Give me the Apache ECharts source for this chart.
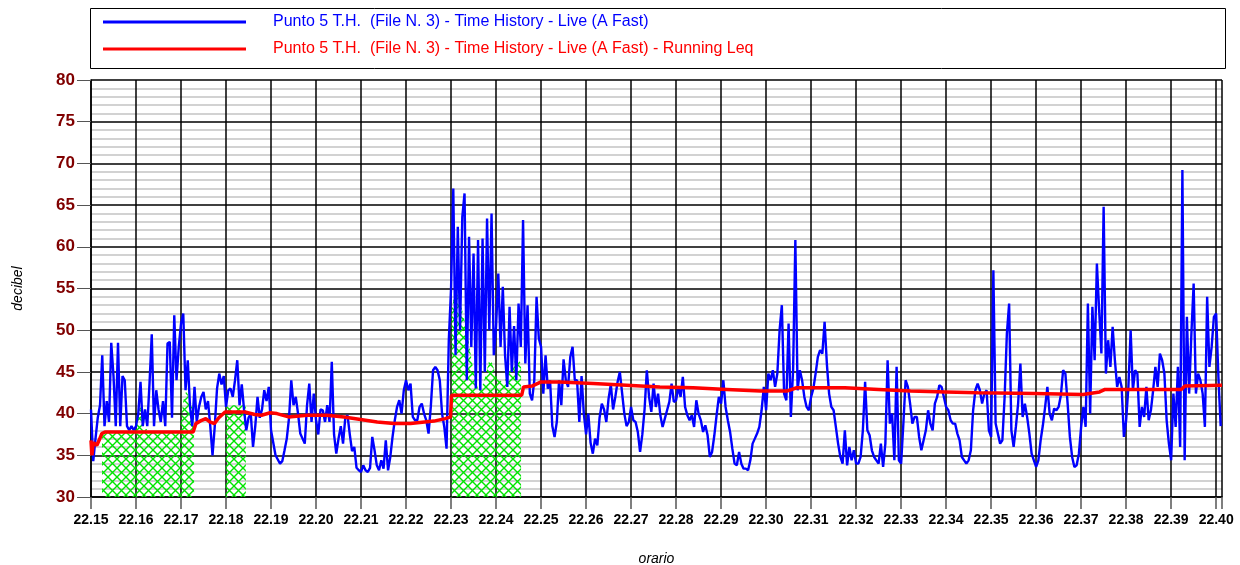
<!DOCTYPE html>
<html>
<head>
<meta charset="utf-8">
<script src="https://cdn.jsdelivr.net/npm/echarts@6/dist/echarts.min.js"></script>
<style>
  html, body { margin: 0; padding: 0; background: #fff; }
  #chart { width: 1240px; height: 565px; }
</style>
</head>
<body>
<div id="chart"></div>
<script>
// minutes after 22.15, one reading every 0.05 min (3 s)
var step = 0.05;
var liveLevels = [
  40.5, 34.3, 37, 39.5, 41, 47, 38.5, 41.5, 39, 48.5, 44.5, 38.5, 48.5, 38.5, 44.5, 44, 38.5, 38, 38.5, 38,
  38.5, 40, 43.8, 38.5, 40.5, 38.5, 43.6, 49.5, 38.5, 42.8, 40.5, 39, 41.5, 38.5, 48.4, 48.6, 39.5, 51.8, 44, 48,
  50.8, 52, 42.8, 46.4, 40.8, 38.5, 43.2, 39, 40.8, 42, 42.6, 40.5, 41.5, 38.5, 35, 38.5, 43, 44.8, 43.5, 44.5,
  40.8, 42.8, 43, 42, 44, 46.4, 41, 43.5, 40.5, 38, 39.5, 40, 36, 38.5, 42, 39.5, 40.5, 42.8, 41.5, 43.2,
  38, 36.5, 35, 34.5, 34, 34.3, 35.6, 37, 39.5, 44, 41, 42, 40, 37.6, 37, 36.4, 41, 43.6, 39, 42.4,
  39.2, 37.5, 40.5, 40.4, 39, 41, 39, 46.2, 37.5, 35.2, 37, 38.5, 36.4, 39.5, 39.8, 37.5, 35.5, 36, 33.5, 33.2,
  33, 33.8, 33.2, 33, 33.5, 37.2, 35.6, 33.8, 33.2, 34.4, 33.4, 36.8, 33.2, 34.8, 37.2, 39.2, 40.8, 41.6, 40, 42.8,
  44, 42.8, 43.6, 39.6, 39.2, 39.2, 40.8, 41.2, 40, 39.2, 37.6, 40.8, 45.2, 45.6, 45.2, 44, 40, 38.4, 35.8, 48.8,
  55, 67, 47, 62.4, 50, 63.6, 66.4, 44, 61.2, 48, 59.2, 43, 60.8, 42.8, 61, 45, 63.4, 50, 64, 47,
  50.4, 56.8, 48, 55.2, 47, 43.2, 52.8, 45, 50.5, 44, 53.2, 48, 63.2, 46, 53, 42.4, 41.6, 44, 54, 49,
  48, 42.4, 47, 43, 44, 38.5, 37.2, 39, 44, 41, 46.5, 44, 43.2, 46.8, 48, 44, 44, 39, 44.5, 40,
  37.5, 40, 36.5, 35.2, 37, 36.2, 39.5, 41.2, 40.5, 39, 41.8, 43.5, 40.5, 42, 43.8, 45, 42.5, 40, 38.5, 39,
  40.8, 39.2, 39, 37.8, 35.4, 37.5, 40.5, 45.2, 42, 40.2, 43.6, 40.8, 42.4, 39.8, 38.4, 39.4, 40.4, 41.4, 43.6, 41.4,
  41.6, 43.2, 42, 44.4, 40.8, 39.8, 39.2, 39.8, 38.4, 41.6, 40, 39.2, 37.8, 38.6, 37.4, 34.8, 35.4, 37.4, 39.8, 42,
  41.2, 44, 40.8, 39.2, 37.8, 35.8, 34, 33.8, 35.4, 34, 33.4, 33.4, 33.2, 34.4, 36.4, 37, 37.6, 38.4, 40.4, 43.2,
  40.4, 44.8, 44, 45.2, 43.2, 44.8, 50, 53, 42.4, 41.6, 50.8, 39.6, 45.2, 60.8, 42.8, 45.2, 44, 42, 40.8, 40.4,
  42, 43, 44.8, 46.8, 47.6, 47.2, 51, 46, 42.4, 40.8, 40.4, 38.4, 36.4, 34.8, 34, 38, 33.8, 36, 34.4, 35.6,
  34, 34, 34.8, 38, 43.8, 38, 37.4, 35.6, 34.8, 34.4, 34, 36.4, 33.6, 36.4, 46.4, 38.8, 40, 34.4, 45.6, 34.4,
  34, 38.8, 44, 43.2, 41.2, 38.8, 39.6, 39.6, 37.2, 35.6, 36.8, 38, 40.4, 38.8, 38, 41.2, 42, 43.4, 43.2, 42,
  40.8, 40.4, 39.2, 38.8, 38.8, 37.6, 36.8, 34.8, 34.4, 34, 34.4, 35.6, 40.4, 42.8, 43.6, 42.8, 41.2, 42.4, 42.8, 38,
  37.2, 57.2, 38.8, 37.6, 36.4, 36.8, 42, 49.6, 53.2, 38, 36, 38.4, 41.2, 46, 39.6, 41.2, 39.6, 37.6, 35.2, 34.4,
  33.6, 34.4, 36.8, 38.6, 40.8, 43.2, 40, 39.2, 40.6, 40.4, 40.8, 42.2, 45.2, 44.8, 41.2, 37.2, 34.8, 33.6, 33.8, 35.2,
  38.4, 40.8, 38.4, 53.2, 40, 52.8, 46.4, 58, 52.4, 47.2, 64.8, 44.8, 48.8, 45.6, 50.4, 46.4, 43.2, 44.4, 43.2, 37.2,
  39.2, 43.2, 50, 42.8, 45.2, 44.8, 38.4, 40.8, 39.6, 43.2, 39.2, 40.4, 42.8, 45.6, 43.2, 47.2, 46.4, 44.8, 39.2, 36.4,
  34.4, 42.4, 38.4, 45.6, 36, 69.2, 34.4, 51.6, 42.4, 49.6, 55.6, 42.4, 44.8, 44, 42.4, 38.4, 54, 45.6, 48, 51.6,
  52, 44.4, 38.5
];

// running Leq: [minute, dB]
var runningLeq = [
  [0, 36.8], [0.02, 35], [0.05, 36.5], [0.13, 36.2], [0.18, 36.8], [0.24, 37.6], [0.31, 37.8],
  [2.27, 37.8], [2.33, 38.8], [2.46, 39.2], [2.55, 39.4], [2.64, 39.0], [2.74, 38.8], [2.84, 39.5],
  [2.98, 40.2], [3.42, 40.2], [3.64, 39.9], [3.79, 39.8], [3.98, 40.1], [4.13, 40.0], [4.39, 39.6],
  [4.8, 39.8], [5.24, 39.8], [5.62, 39.6], [5.99, 39.3], [6.36, 39.0], [6.73, 38.8], [7.1, 38.8],
  [7.62, 39.1], [7.87, 39.4], [7.99, 39.6], [8.01, 42.2], [9.57, 42.2], [9.61, 43.2], [9.8, 43.3],
  [10.0, 43.8], [10.42, 43.8], [11.16, 43.6], [11.9, 43.4], [12.64, 43.2], [13.38, 43.1],
  [14.13, 42.9], [14.87, 42.7], [15.46, 42.7], [15.68, 43.1], [15.98, 43.1], [16.75, 43.1],
  [17.5, 42.9], [18.21, 42.7], [19.0, 42.6], [19.7, 42.5], [20.96, 42.4], [22.04, 42.3],
  [22.41, 42.6], [22.53, 42.9], [24.23, 42.9], [24.3, 43.3], [25.13, 43.4]
];

// masked (excluded) stretches, upper edge of the hatched area: [minute, dB]
var maskedTop = [
  [0.244, 37.8], [0.97, 37.8], [1.05, 40], [1.1, 41.2], [1.16, 38.5], [1.3, 37.8],
  [1.97, 37.8], [2.05, 41.5], [2.12, 42.8], [2.2, 41.5], [2.29, 40.5], [2.291, null],
  [2.99, 41], [3.44, 41], [3.441, null],
  [8.015, 52.4], [8.089, 55], [8.2, 53.5], [8.35, 50], [8.496, 45.2], [8.607, 42.8],
  [8.719, 43.6], [8.867, 46.8], [9.015, 44.4], [9.163, 43.6], [9.311, 45.2], [9.46, 46.8], [9.556, 46]
];

var firstHour = 22, firstMinute = 15;
var blueName = 'Punto 5 T.H.  (File N. 3) - Time History - Live (A Fast)';
var redName = 'Punto 5 T.H.  (File N. 3) - Time History - Live (A Fast) - Running Leq';

var liveData = liveLevels.map(function (v, i) { return [+(i * step).toFixed(2), v]; });

// green cross hatch
var hatch = document.createElement('canvas');
hatch.width = 9; hatch.height = 9;
var hc = hatch.getContext('2d');
hc.strokeStyle = '#00e400';
hc.lineWidth = 1.4;
hc.beginPath();
hc.moveTo(0, 0); hc.lineTo(9, 9);
hc.moveTo(9, 0); hc.lineTo(0, 9);
hc.stroke();

var chart = echarts.init(document.getElementById('chart'));

var option = {
    animation: false,
    textStyle: { fontFamily: 'Liberation Sans' },
    legend: {
        orient: 'vertical',
        left: 103,
        top: 14,
        padding: 0,
        itemWidth: 143,
        itemHeight: 3,
        itemGap: 11,
        icon: 'rect',
        textStyle: { fontSize: 16, padding: [0, 0, 0, 22] },
        data: [
            { name: blueName, textStyle: { color: '#0000ff' } },
            { name: redName, textStyle: { color: '#ff0000' } }
        ]
    },
    graphic: [{
        type: 'rect',
        shape: { x: 90.5, y: 8.5, width: 1135, height: 60 },
        style: { fill: null, stroke: '#000', lineWidth: 1 },
        silent: true
    }],
    grid: { left: 91, right: 18, top: 80, bottom: 68, outerBoundsMode: 'none' },
    xAxis: {
        type: 'value',
        min: 0,
        max: 25.13,
        interval: 1,
        name: 'orario',
        nameLocation: 'middle',
        nameGap: 55,
        nameTextStyle: { fontStyle: 'italic', fontSize: 14, color: '#000' },
        axisLine: { lineStyle: { color: '#000', width: 1.5 } },
        axisTick: { show: true, length: 12, lineStyle: { color: '#555', width: 1.5 } },
        axisLabel: {
            margin: 16,
            fontSize: 14,
            fontWeight: 'bold',
            color: '#000',
            showMaxLabel: true,
            formatter: function (v) {
                var r = Math.round(v);
                if (Math.abs(v - r) > 1e-6) return '';
                return firstHour + '.' + (firstMinute + r);
            }
        },
        splitLine: { show: true, lineStyle: { color: '#000', width: 1.5 } }
    },
    yAxis: {
        type: 'value',
        min: 30,
        max: 80,
        interval: 5,
        name: 'decibel',
        nameLocation: 'middle',
        nameGap: 66,
        nameRotate: 90,
        nameTextStyle: { fontStyle: 'italic', fontSize: 14, color: '#000' },
        axisLine: { show: true, lineStyle: { color: '#000', width: 1.5 } },
        axisTick: { show: true, length: 14, lineStyle: { color: '#555', width: 1 } },
        axisLabel: { margin: 16, fontSize: 17, fontWeight: 'bold', color: '#800000' },
        splitLine: { show: true, lineStyle: { color: '#000', width: 1.5 } },
        minorTick: { show: false, splitNumber: 5 },
        minorSplitLine: { show: true, lineStyle: { color: '#c4c4c4', width: 1.5 } }
    },
    series: [
        {
            name: 'masked',
            type: 'line',
            data: maskedTop,
            showSymbol: false,
            connectNulls: false,
            lineStyle: { width: 0 },
            areaStyle: { origin: 'start', opacity: 1, color: { image: hatch, repeat: 'repeat' } },
            silent: true
        },
        {
            name: blueName,
            type: 'line',
            data: liveData,
            showSymbol: false,
            color: '#0000ff',
            lineStyle: { width: 2.4, color: '#0000ff' }
        },
        {
            name: redName,
            type: 'line',
            data: runningLeq,
            showSymbol: false,
            color: '#ff0000',
            lineStyle: { width: 3.5, color: '#ff0000' }
        }
    ]
};

chart.setOption(option);
</script>
</body>
</html>
